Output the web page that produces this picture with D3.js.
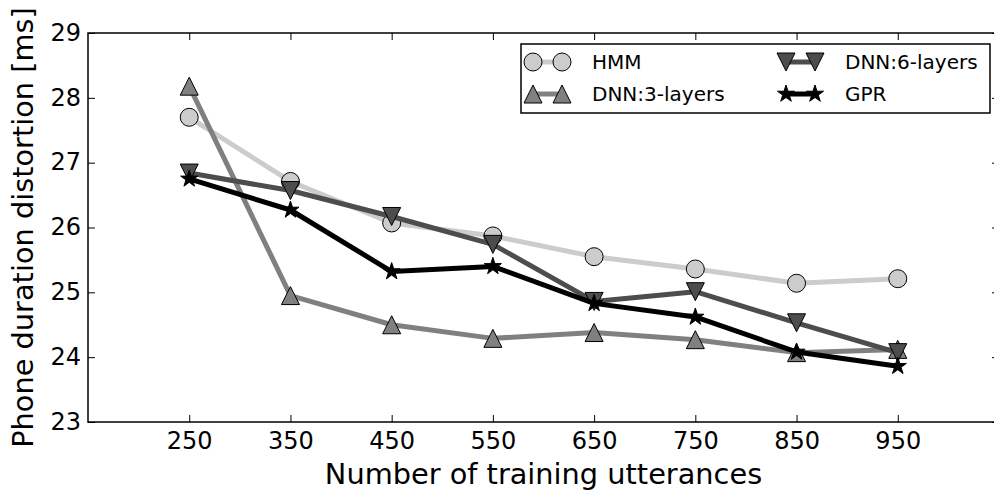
<!DOCTYPE html>
<html>
<head>
<meta charset="utf-8">
<script src="https://cdn.jsdelivr.net/npm/d3@7"></script>
<style>
  body { margin: 0; background: #fff; }
  svg { display: block; font-family: "DejaVu Sans", sans-serif; }
</style>
</head>
<body>
<div id="chart"></div>
<script>
// Phone duration distortion vs. number of training utterances

// Data
const utterances = [250, 350, 450, 550, 650, 750, 850, 950];
const hmm  = [27.70, 26.71, 26.07, 25.87, 25.55, 25.36, 25.14, 25.21];
const dnn3 = [28.18, 24.95, 24.50, 24.29, 24.38, 24.27, 24.07, 24.12];
const dnn6 = [26.84, 26.57, 26.17, 25.74, 24.86, 25.01, 24.53, 24.07];
const gpr  = [26.75, 26.27, 25.32, 25.40, 24.83, 24.62, 24.08, 23.86];
const xTicks = [250, 350, 450, 550, 650, 750, 850, 950];
const yTicks = [23, 24, 25, 26, 27, 28, 29];

const series = [
  {name: "HMM",          values: hmm,  line: "#cccccc", fill: "#cccccc", marker: "circle"},
  {name: "DNN:3-layers", values: dnn3, line: "#808080", fill: "#808080", marker: "up"},
  {name: "DNN:6-layers", values: dnn6, line: "#4d4d4d", fill: "#4d4d4d", marker: "down"},
  {name: "GPR",          values: gpr,  line: "#000000", fill: "#000000", marker: "star"}
];

// Dimensions
const width = 994, height = 493,
      marginTop = 33, marginRight = -5, marginBottom = 71, marginLeft = 88;
const ms = 18;
const font = "DejaVu Sans";

const x = d3.scaleLinear()
    .domain([150, 1050])
    .range([marginLeft, width - marginRight]);

const y = d3.scaleLinear()
    .domain([23, 29])
    .range([height - marginBottom, marginTop]);

const svg = d3.select("#chart")
  .append("svg")
    .attr("width", width)
    .attr("height", height)
    .attr("viewBox", [0, 0, width, height]);

// marker shapes (matplotlib-like: triangle height = width = ms)
function markerPath(type) {
  const h = ms / 2;
  if (type === "up") return `M0,${-h}L${h},${h}L${-h},${h}Z`;
  if (type === "down") return `M0,${h}L${h},${-h}L${-h},${-h}Z`;
  if (type === "star") return d3.symbol(d3.symbolStar, (h * h) / 0.8908130915292852)();
  return d3.symbol(d3.symbolCircle, Math.PI * h * h)();
}

// Axes (ticks inward on all four sides)
const tickLen = 7;
svg.append("g")
    .attr("transform", `translate(0,${y(23)})`)
    .call(d3.axisBottom(x).tickValues(xTicks).tickSizeInner(-tickLen).tickSizeOuter(0).tickPadding(10))
    .attr("font-family", font)
    .call(g => g.select(".domain").remove())
    .call(g => g.selectAll("text").attr("font-size", "24px").attr("fill", "#000"));

svg.append("g")
    .attr("transform", `translate(0,${y(29)})`)
    .call(d3.axisTop(x).tickValues(xTicks).tickSizeInner(-tickLen).tickSizeOuter(0).tickFormat(""))
    .call(g => g.select(".domain").remove());

svg.append("g")
    .attr("transform", `translate(${x(150)},0)`)
    .call(d3.axisLeft(y).tickValues(yTicks).tickFormat(d3.format("d")).tickSizeInner(-tickLen).tickSizeOuter(0).tickPadding(7))
    .attr("font-family", font)
    .call(g => g.select(".domain").remove())
    .call(g => g.selectAll("text").attr("font-size", "24px").attr("fill", "#000").attr("dy", "0.3em"));

svg.append("g")
    .attr("transform", `translate(${x(1050)},0)`)
    .call(d3.axisRight(y).tickValues(yTicks).tickSizeInner(-tickLen).tickSizeOuter(0).tickFormat(""))
    .call(g => g.select(".domain").remove());

svg.selectAll(".tick line").attr("stroke", "#000").attr("stroke-width", 1);

// Frame
svg.append("rect")
    .attr("x", x(150))
    .attr("y", y(29))
    .attr("width", x(1050) - x(150))
    .attr("height", y(23) - y(29))
    .attr("fill", "none")
    .attr("stroke", "#000")
    .attr("stroke-width", 1.5);

// Axis labels
svg.append("text")
    .attr("x", (x(150) + x(1050)) / 2)
    .attr("y", 484)
    .attr("text-anchor", "middle")
    .attr("font-size", "28.8px")
    .text("Number of training utterances");

svg.append("text")
    .attr("transform", `translate(33,${(y(23) + y(29)) / 2}) rotate(-90)`)
    .attr("text-anchor", "middle")
    .attr("font-size", "28.8px")
    .text("Phone duration distortion [ms]");

// Lines and markers
const line = d3.line()
    .x((d, i) => x(utterances[i]))
    .y(d => y(d));

series.forEach(s => {
  const g = svg.append("g");
  g.append("path")
      .datum(s.values)
      .attr("d", line)
      .attr("fill", "none")
      .attr("stroke", s.line)
      .attr("stroke-width", 5)
      .attr("stroke-linejoin", "round");
  g.selectAll("path.mk")
    .data(s.values)
    .join("path")
      .attr("class", "mk")
      .attr("transform", (d, i) => `translate(${x(utterances[i])},${y(d)})`)
      .attr("d", markerPath(s.marker))
      .attr("fill", s.fill)
      .attr("stroke", "#000")
      .attr("stroke-width", 1);
});

// Legend
const legend = svg.append("g");
legend.append("rect")
    .attr("x", 521)
    .attr("y", 44)
    .attr("width", 469)
    .attr("height", 69)
    .attr("fill", "#fff")
    .attr("stroke", "#000")
    .attr("stroke-width", 1.5);

const legendPos = [
  {cx: 533, ty: 62},
  {cx: 533, ty: 94},
  {cx: 786, ty: 62},
  {cx: 786, ty: 94}
];

series.forEach((s, i) => {
  const p = legendPos[i];
  const lg = legend.append("g");
  lg.append("line")
      .attr("x1", p.cx).attr("x2", p.cx + 29)
      .attr("y1", p.ty).attr("y2", p.ty)
      .attr("stroke", s.line)
      .attr("stroke-width", 5);
  [p.cx, p.cx + 29].forEach(cx => {
    lg.append("path")
        .attr("transform", `translate(${cx},${p.ty})`)
        .attr("d", markerPath(s.marker))
        .attr("fill", s.fill)
        .attr("stroke", "#000")
        .attr("stroke-width", 1);
  });
  lg.append("text")
      .attr("x", p.cx + 59)
      .attr("y", p.ty + 7)
      .attr("font-size", "20px")
      .text(s.name);
});
</script>
</body>
</html>
